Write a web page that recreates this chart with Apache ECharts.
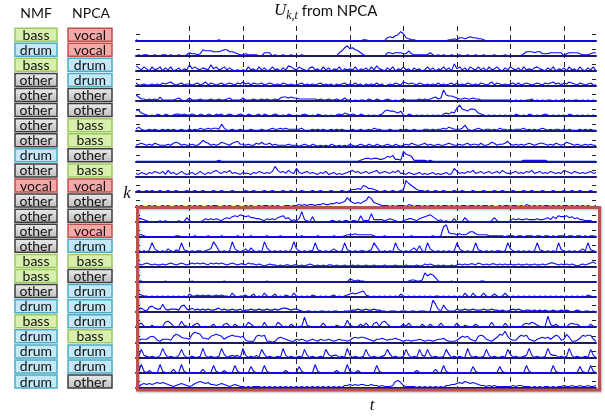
<!DOCTYPE html>
<html>
<head>
<meta charset="utf-8">
<script src="https://cdn.jsdelivr.net/npm/echarts@6/dist/echarts.min.js"></script>
<style>
  html, body { margin: 0; padding: 0; background: #fff; }
  #chart { width: 605px; height: 419px; }
</style>
</head>
<body>
<div id="chart"></div>
<script>
// labels of the 24 components
var NMF_LABELS = ['bass','drum','bass','other','other','other','other','other','drum','other','vocal','other',
  'other','other','other','bass','bass','other','drum','bass','drum','drum','drum','drum'];
var NPCA_LABELS = ['vocal','vocal','drum','drum','other','other','bass','bass','other','bass','vocal','other',
  'other','vocal','drum','bass','other','drum','drum','drum','bass','drum','drum','other'];

// time axis: one value every 5 frames, 0..860
var T_STEP = 5;
var T_MAX = 860;
var T_GRID = 100;
var U_TICK = 6.5;
var U_MAX = 12;

// U_{k,t}, one array per row k
var U01 = [
  1,0,0,0,0,0,0,0,0,0,0,0,0,0,0,0,0,0,0,0,
  0,0,0,0,0,0,0,0,0,0,0,1,0,0,0,0,0,0,0,0,
  0,0,0,0,0,0,0,0,0,0,0,0,0,0,0,0,0,0,0,0,
  0,0,0,0,0,0,0,0,0,0,0,0,0,0,0,0,0,0,0,0,
  0,0,0,0,0,1,1,0,0,0,0,0,0,0,3,4,3,5,6,9,
  7,3,2,1,1,0,0,0,0,0,0,0,0,0,0,0,0,1,1,2,
  1,3,3,2,3,4,3,3,2,2,1,0,0,0,0,0,0,0,0,0,
  0,0,0,0,0,0,0,0,0,0,0,0,0,0,0,0,0,0,0,0,
  0,0,0,0,0,0,0,0,0,0,0,0,0];
var U02 = [
  0,1,0,1,1,0,0,1,0,0,1,1,0,1,0,0,1,0,0,1,
  3,2,2,1,2,6,5,5,5,4,4,4,5,6,6,4,4,3,2,1,
  1,2,1,1,1,1,0,0,3,3,3,0,1,0,0,1,0,0,1,0,
  0,0,1,0,0,0,0,0,0,0,0,0,0,0,0,0,3,5,8,10,
  7,8,6,5,3,1,0,0,0,0,0,0,0,0,3,3,2,3,3,3,
  2,2,5,2,1,1,1,1,1,1,3,1,0,1,0,1,0,0,1,0,
  0,1,0,0,1,0,0,1,0,0,1,0,0,0,1,0,0,0,1,0,
  0,0,0,0,0,2,4,4,4,3,4,4,2,2,2,3,3,3,3,3,
  0,2,3,3,3,3,2,1,1,1,2,3,3];
var U03 = [
  5,3,1,4,2,0,4,1,2,4,0,3,1,4,0,1,3,0,2,1,
  6,2,4,2,1,3,2,1,6,2,4,1,2,4,1,3,1,0,1,0,
  1,0,4,1,2,0,4,1,3,0,1,4,1,2,0,3,1,5,4,2,
  1,4,2,1,0,3,4,1,2,0,4,1,3,0,2,1,4,0,2,1,
  2,1,4,0,2,1,3,0,4,1,5,2,1,0,3,1,4,0,2,1,
  4,1,2,0,3,1,2,0,1,4,1,3,0,2,1,4,1,3,0,7,
  2,4,1,3,0,4,2,1,4,1,3,0,4,1,2,4,1,0,3,1,
  4,2,1,3,0,4,1,2,1,3,4,2,1,0,3,1,4,0,2,1,
  3,0,4,1,2,0,4,1,0,3,1,4,0];
var U04 = [
  3,1,1,2,1,1,2,1,2,1,3,2,3,4,2,1,2,3,1,2,
  2,1,2,3,1,2,4,1,3,2,1,2,3,1,2,3,2,1,3,2,
  4,2,3,1,3,2,2,3,1,2,3,2,1,2,1,3,2,1,2,1,
  1,2,3,1,2,1,2,1,2,3,1,2,1,2,0,2,1,2,3,1,
  2,1,3,1,2,0,2,1,2,1,3,1,2,0,1,2,1,3,2,1,
  4,3,2,3,2,1,3,2,1,2,1,2,1,3,1,2,1,2,3,1,
  3,1,2,1,3,2,1,2,1,3,2,1,2,4,1,3,2,1,2,1,
  2,3,1,3,1,2,3,2,1,2,3,2,1,3,2,3,4,2,3,1,
  3,2,4,3,2,1,3,2,1,2,3,1,1];
var U05 = [
  6,4,2,2,1,2,1,2,1,4,1,1,1,1,1,2,3,1,0,1,
  3,1,1,1,2,1,1,1,2,1,1,2,1,1,2,3,1,1,1,1,
  3,1,1,1,2,1,1,2,1,2,1,1,2,1,3,4,4,3,4,3,
  3,2,2,2,2,2,2,2,1,2,1,1,2,1,1,2,1,1,3,1,
  1,0,1,0,1,1,0,2,1,0,2,1,0,1,2,1,0,1,0,1,
  2,1,1,1,1,1,2,1,2,1,2,3,4,2,3,11,6,5,5,4,
  3,2,2,3,2,2,3,2,2,1,1,1,1,1,1,1,1,1,1,1,
  1,0,1,0,1,0,1,1,2,0,1,0,1,0,1,1,0,1,0,1,
  1,0,1,0,1,1,0,1,0,1,0,1,0];
var U06 = [
  6,6,3,2,1,0,1,0,2,1,0,2,1,0,1,2,2,1,2,1,
  1,2,1,0,2,1,0,2,1,0,2,1,2,0,1,2,1,0,1,2,
  1,0,2,1,0,1,2,0,2,1,0,1,2,1,0,1,0,2,1,0,
  1,0,1,2,1,0,1,0,2,1,0,1,0,1,0,1,2,1,3,2,
  1,2,1,0,2,1,0,1,0,1,0,1,2,5,6,5,5,4,3,5,
  1,0,2,1,0,1,0,1,0,1,0,1,0,1,0,2,3,2,4,3,
  8,11,7,6,5,7,7,6,3,2,1,0,1,0,1,0,1,0,1,0,
  1,0,2,1,0,1,0,2,1,0,1,0,1,2,1,0,1,0,1,0,
  1,0,2,1,0,1,0,1,0,1,0,1,0];
var U07 = [
  2,4,2,1,1,2,1,2,1,1,2,1,2,1,2,1,1,2,1,1,
  2,1,2,1,3,2,2,3,2,3,3,2,7,3,1,1,2,1,1,2,
  1,1,1,2,1,1,1,2,1,1,2,3,2,2,3,2,3,2,2,2,
  2,2,3,1,1,1,2,1,2,1,2,1,1,2,1,2,1,2,1,1,
  1,2,1,1,2,1,1,2,1,3,2,2,1,1,1,2,1,1,1,2,
  1,2,1,1,2,1,1,1,2,2,1,2,1,2,2,3,2,4,3,2,
  2,2,3,6,2,1,1,2,3,2,1,2,2,1,2,1,3,2,2,1,
  2,1,2,2,2,3,1,2,1,2,1,2,3,2,1,2,1,2,2,1,
  2,1,2,1,1,1,2,1,2,1,2,1,1];
var U08 = [
  1,2,3,2,1,2,1,3,2,1,1,1,2,1,3,4,3,1,2,1,
  1,2,1,1,3,6,4,3,1,2,1,2,4,3,2,1,3,4,5,2,
  2,1,2,1,1,3,2,4,2,2,3,1,2,1,1,1,1,2,1,1,
  1,0,1,2,1,0,2,1,0,1,0,1,0,2,1,0,1,0,1,0,
  2,1,0,1,2,1,0,2,1,0,2,1,0,1,2,1,0,2,1,0,
  1,2,1,3,2,1,1,2,3,1,2,1,1,2,1,1,2,3,2,1,
  1,2,1,2,3,1,2,2,1,3,1,1,2,4,3,1,2,2,3,5,
  2,1,2,1,2,1,2,3,2,1,2,3,3,2,1,2,1,3,2,1,
  2,4,3,2,1,2,1,1,2,1,2,1,1];
var U09 = [
  0,0,0,0,0,0,0,0,0,0,0,0,0,0,0,0,0,0,0,0,
  0,0,0,0,0,0,0,0,0,0,0,1,0,0,0,0,0,0,0,0,
  0,0,0,0,0,0,0,0,0,0,0,0,0,0,0,0,0,0,0,0,
  0,0,0,0,0,0,0,0,0,0,0,0,0,0,0,0,0,0,0,0,
  0,0,0,0,1,2,3,3,2,3,3,2,2,3,5,4,6,2,2,1,
  10,7,6,5,1,1,1,1,1,0,1,0,0,0,0,0,0,0,0,0,
  0,0,0,0,0,0,0,0,0,0,0,0,0,0,0,0,0,0,0,0,
  0,0,0,0,0,1,1,1,1,1,1,1,1,1,0,0,0,0,0,0,
  0,0,0,0,0,0,0,0,0,0,0,0,0];
var U10 = [
  3,2,4,3,2,4,3,5,4,3,5,2,6,3,4,2,3,5,3,2,
  3,4,2,3,5,3,2,4,3,5,6,4,3,5,4,6,3,4,3,2,
  4,3,3,2,4,3,5,4,3,4,3,5,10,6,4,5,3,6,4,3,
  8,4,3,4,5,3,4,3,2,4,3,5,2,3,4,2,3,2,3,4,
  5,6,4,5,3,4,5,3,4,5,6,3,4,5,4,3,5,4,6,3,
  3,2,4,3,2,3,4,2,3,2,3,4,2,3,2,3,4,2,3,8,
  5,3,4,3,5,4,6,3,4,5,3,4,5,3,4,5,3,6,4,3,
  3,4,5,3,4,3,5,4,6,3,4,5,3,4,3,5,4,3,4,3,
  6,5,4,3,5,4,3,4,3,4,5,3,4];
var U11 = [
  0,1,0,0,1,0,1,0,0,1,0,0,1,0,0,1,0,0,0,1,
  0,0,1,0,0,1,0,0,0,1,0,0,1,0,0,0,1,0,0,0,
  0,1,0,0,1,0,0,0,1,0,0,1,0,0,0,1,0,0,1,0,
  0,0,1,0,0,0,1,0,0,1,0,0,0,1,0,0,0,1,0,0,
  1,2,2,3,2,6,5,3,3,2,1,0,0,1,0,0,1,0,0,1,
  2,11,8,6,4,2,1,1,0,1,0,0,1,0,0,1,0,0,0,1,
  0,0,1,0,0,0,1,0,0,0,1,0,0,0,1,0,0,1,0,0,
  0,1,0,0,0,1,0,0,1,0,0,0,1,0,0,0,1,0,0,0,
  1,0,0,1,0,0,1,0,0,0,1,0,0];
var U12 = [
  1,0,1,0,0,1,0,1,0,0,1,0,1,0,0,1,0,1,0,0,
  1,0,1,0,1,0,0,1,0,1,1,0,0,1,0,1,0,0,1,0,
  0,1,0,1,0,0,1,0,1,1,0,1,0,1,0,0,1,1,0,1,
  1,2,1,2,1,2,2,1,2,2,3,2,2,3,3,4,3,4,5,9,
  6,4,3,4,3,5,6,10,8,4,3,2,1,1,1,0,1,0,1,1,
  1,0,2,1,0,1,1,0,1,0,1,1,0,1,0,1,1,0,1,0,
  1,0,1,1,0,1,1,0,1,0,1,1,0,1,0,0,1,0,1,1,
  0,1,1,0,1,0,2,1,0,1,0,1,0,1,1,0,1,0,1,0,
  1,1,0,1,0,1,0,1,0,1,0,0,1];
var U13 = [
  0,3,3,2,1,0,0,0,0,1,0,1,0,0,0,0,1,0,0,4,
  1,0,0,0,0,1,3,2,3,2,3,2,1,3,4,3,5,6,5,7,
  6,5,6,4,4,3,3,2,1,3,2,3,2,4,5,6,3,4,1,2,
  1,3,10,2,1,0,5,0,0,0,0,0,0,1,1,0,1,0,1,1,
  0,1,1,0,6,1,1,1,8,2,2,2,2,1,2,3,2,1,0,0,
  1,2,3,3,2,1,3,4,5,6,7,5,3,1,2,0,1,0,0,3,
  0,0,0,4,1,0,0,0,0,0,0,0,0,1,4,1,0,0,0,0,
  1,3,2,3,2,2,3,2,2,2,3,2,2,3,4,2,5,3,6,5,
  5,6,4,5,3,4,2,2,1,1,1,0,0];
var U14 = [
  0,2,2,1,0,0,0,0,0,0,0,0,0,0,0,1,1,0,0,0,
  0,0,1,0,0,0,0,1,0,0,0,0,1,0,0,0,0,0,1,0,
  0,0,0,1,0,0,0,0,0,1,0,0,0,0,1,0,0,0,0,0,
  0,0,1,0,0,0,0,0,1,0,0,0,0,0,1,0,0,0,1,2,
  2,2,3,2,2,2,2,2,2,1,0,0,0,1,0,0,0,0,0,0,
  0,0,0,1,0,0,0,0,0,0,0,1,0,0,1,10,12,4,3,3,
  2,3,2,2,3,5,5,3,2,2,2,2,1,1,1,1,1,1,0,1,
  1,1,0,1,1,0,1,1,1,0,1,1,0,1,1,0,1,0,1,1,
  1,0,1,1,0,1,1,0,1,0,1,1,0];
var U15 = [
  0,1,0,1,0,2,9,3,1,0,1,0,3,1,0,2,1,9,2,1,
  0,1,0,1,1,0,1,2,3,10,6,1,0,1,0,1,10,3,1,0,
  1,3,0,4,1,0,1,0,10,4,1,0,1,0,1,0,1,0,2,10,
  3,1,0,1,0,1,1,9,2,1,0,1,0,1,3,1,0,1,9,2,
  1,0,1,0,1,1,0,1,2,9,5,1,0,1,0,1,0,9,3,1,
  0,1,0,2,4,1,6,1,0,9,3,1,0,1,0,1,0,1,0,1,
  9,3,1,0,1,0,1,9,2,1,0,1,0,1,0,1,1,0,1,9,
  3,1,0,1,0,1,0,1,0,1,9,2,1,0,1,0,1,0,9,2,
  1,0,1,0,1,0,1,3,1,9,2,1,0];
var U16 = [
  2,3,2,3,4,3,2,3,2,2,3,2,3,4,3,2,3,4,3,2,
  3,4,3,4,3,4,3,2,4,3,4,3,4,3,2,3,4,3,2,3,
  3,2,4,3,3,2,3,2,1,2,3,2,2,1,2,1,2,2,1,2,
  2,1,2,1,2,3,2,1,2,1,2,1,2,2,1,2,1,1,2,1,
  1,2,1,2,1,1,2,1,1,2,1,1,1,2,1,1,1,2,1,1,
  1,2,1,1,1,2,1,1,3,2,3,2,1,2,1,2,1,1,2,1,
  2,3,2,3,2,3,3,2,4,3,2,3,2,3,3,2,3,2,3,2,
  3,2,2,3,2,2,3,2,2,3,2,2,3,2,3,4,4,3,2,3,
  2,3,2,3,2,1,2,3,2,3,4,5,3];
var U17 = [
  0,1,1,0,0,0,0,0,0,0,0,1,0,0,0,0,0,0,0,0,
  0,1,0,0,0,0,0,0,0,0,0,0,0,1,0,0,0,0,0,0,
  0,0,0,0,0,0,0,0,0,1,0,0,0,0,0,0,0,0,0,0,
  0,0,0,0,0,0,0,0,0,0,0,0,0,0,0,0,0,0,0,0,
  3,2,1,2,1,1,0,0,0,0,0,0,0,0,0,0,0,0,0,0,
  0,0,1,2,2,1,1,2,9,6,8,7,4,1,0,0,0,0,1,0,
  0,0,0,0,0,0,0,0,0,1,1,0,0,0,0,0,0,0,0,0,
  0,0,0,0,0,0,0,0,0,0,0,0,0,0,0,0,0,0,0,0,
  0,0,0,0,0,0,0,0,0,0,0,0,0];
var U18 = [
  1,3,2,1,1,0,1,0,1,0,1,0,1,0,1,0,1,0,1,0,
  3,1,1,2,1,2,1,2,1,1,2,1,2,1,1,0,4,1,0,1,
  1,2,0,1,3,0,1,0,4,1,0,1,3,0,1,0,2,1,0,4,
  1,0,1,0,1,0,2,1,0,1,0,1,0,1,2,0,1,0,1,2,
  3,4,3,4,5,6,2,1,0,1,0,1,0,1,0,1,0,1,0,3,
  1,0,1,0,1,0,1,0,1,0,1,0,1,1,0,1,0,1,0,1,
  0,1,0,4,1,0,4,1,0,1,4,1,0,1,3,1,0,1,4,1,
  0,1,0,1,0,1,0,1,0,1,0,1,0,1,0,1,0,1,0,1,
  0,1,0,1,0,1,0,1,0,2,1,0,0];
var U19 = [
  1,3,4,2,1,5,6,4,3,3,8,3,2,3,3,3,2,6,7,3,
  2,4,2,3,2,3,2,3,2,2,3,4,2,3,2,2,3,2,2,3,
  1,2,2,3,2,2,3,2,2,3,2,2,3,2,3,4,4,3,2,3,
  3,2,1,0,1,1,0,1,0,1,1,0,1,0,1,1,0,0,1,1,
  1,2,2,3,2,2,3,2,2,3,2,2,1,1,0,1,1,1,0,1,
  1,1,0,1,1,0,1,1,1,0,1,12,8,3,1,7,3,1,1,1,
  3,2,2,3,2,2,3,2,2,2,3,2,2,3,2,2,1,2,1,1,
  2,3,2,3,2,1,2,2,1,2,1,2,1,2,1,1,2,1,1,2,
  1,2,1,0,1,2,1,0,1,1,0,1,0];
var U20 = [
  1,3,4,1,0,0,2,0,1,0,1,5,6,4,1,0,1,6,2,1,
  0,1,3,4,1,0,1,0,1,3,0,1,0,3,4,1,0,3,1,0,
  1,1,5,3,1,0,1,0,5,1,0,1,0,5,3,0,1,0,3,1,
  0,1,1,10,2,1,0,1,0,1,4,1,0,1,0,2,1,0,1,7,
  2,1,0,1,3,1,4,1,0,4,5,1,5,6,3,1,0,1,0,1,
  3,1,4,1,0,1,0,3,1,0,3,1,0,1,4,1,0,1,0,1,
  4,1,0,2,1,0,1,3,1,0,1,0,1,5,1,0,1,0,4,1,
  0,1,0,1,0,3,4,3,5,4,2,1,0,1,11,3,1,3,1,0,
  1,0,3,4,3,3,1,0,1,0,3,1,0];
var U21 = [
  1,2,3,3,3,5,6,5,2,1,3,3,3,2,6,8,7,5,4,4,
  3,8,10,9,8,4,4,3,6,7,8,7,6,3,5,6,7,6,6,5,
  6,2,1,1,1,6,7,6,7,1,1,0,1,4,5,4,3,2,1,1,
  3,2,3,2,1,2,3,2,1,3,2,2,3,2,1,2,3,2,2,1,
  2,4,5,4,5,5,4,3,2,1,3,3,4,3,2,3,3,4,3,2,
  1,2,2,1,2,2,3,2,1,2,2,1,2,3,3,4,2,1,1,1,
  2,4,6,5,6,3,2,1,6,7,6,3,2,1,3,5,8,7,11,6,
  3,2,2,5,7,6,7,3,2,1,3,4,5,4,5,3,5,7,6,2,
  3,8,5,1,1,2,4,7,6,7,7,3,1];
var U22 = [
  0,1,8,2,1,0,1,0,0,2,9,3,0,1,0,0,2,8,2,0,
  0,1,0,0,1,9,2,0,1,0,0,1,9,3,0,1,2,1,2,0,
  9,2,0,1,0,2,0,8,3,0,1,0,0,1,0,9,2,0,1,0,
  0,1,0,8,2,0,1,0,0,1,0,8,3,1,2,2,0,1,0,9,
  2,0,1,0,0,1,8,2,0,1,0,0,1,2,8,3,0,1,0,0,
  1,8,2,0,1,0,8,2,1,8,2,0,1,0,0,1,8,3,0,1,
  0,1,0,0,9,2,0,1,0,0,1,8,2,0,1,0,0,1,0,8,
  3,0,1,0,0,1,2,9,2,0,1,0,0,1,9,3,2,2,0,1,
  0,1,9,2,0,1,0,0,1,0,8,2,0];
var U23 = [
  0,1,8,1,0,2,0,0,0,8,1,0,0,0,3,0,0,8,1,0,
  0,0,0,0,0,3,0,0,0,7,1,0,0,2,0,0,0,7,1,0,
  0,0,0,6,1,0,0,0,7,1,0,0,0,0,0,0,2,0,0,0,
  0,6,1,0,0,0,0,8,1,0,0,0,0,0,0,2,0,0,0,8,
  1,0,0,2,0,0,0,0,0,0,7,1,0,0,0,0,0,0,0,0,
  0,0,0,0,0,2,0,0,0,0,0,0,3,0,0,7,1,0,0,0,
  0,0,0,0,0,0,6,1,0,0,0,0,0,0,0,0,6,1,0,0,
  0,0,0,0,0,0,7,1,0,0,0,0,0,0,0,0,7,1,0,0,
  0,0,0,0,0,0,6,1,0,0,7,1,0];
var U24 = [
  0,1,3,4,3,4,3,4,5,4,5,4,3,2,1,2,3,4,3,2,
  1,2,4,5,6,5,4,5,3,3,2,3,4,3,2,1,2,3,2,1,
  1,0,1,0,1,1,1,0,1,0,1,0,1,0,1,0,1,0,1,0,
  1,0,1,0,1,0,1,0,1,0,1,0,1,0,1,0,1,0,2,2,
  3,2,3,2,3,3,2,2,3,2,2,1,2,1,1,1,2,6,7,5,
  2,1,1,1,1,0,1,0,1,0,1,0,1,0,1,0,2,2,3,3,
  4,5,4,6,5,4,5,4,3,2,2,1,2,1,2,1,1,1,1,1,
  1,2,1,2,2,1,1,1,0,1,0,1,0,1,1,0,1,0,1,1,
  2,1,1,2,1,1,2,1,1,2,1,1,2];

var ROWS = [U01, U02, U03, U04, U05, U06, U07, U08, U09, U10, U11, U12,
  U13, U14, U15, U16, U17, U18, U19, U20, U21, U22, U23, U24];

// layout
var PLOT_LEFT = 136, PLOT_WIDTH = 460;
var ROW0 = 40.7, ROW_GAP = 15.08, ROW_H = 12;
var BOX_ROW = 12; // first row inside the red box

var LABEL_STYLE = {
  bass:  { fill: '#d8efae', stroke: '#9cc95e' },
  drum:  { fill: '#c4e8f6', stroke: '#4bacc6' },
  vocal: { fill: '#f3a9a7', stroke: '#c0504d' },
  other: {
    fill: { type: 'linear', x: 0, y: 0, x2: 0, y2: 1,
      colorStops: [{ offset: 0, color: '#ececec' }, { offset: 1, color: '#bdbdbd' }] },
    stroke: '#3c3c3c'
  }
};

var chart = echarts.init(document.getElementById('chart'));

var grids = [], xAxes = [], yAxes = [], series = [];
var n = ROWS.length;

ROWS.forEach(function (row, i) {
  var base = ROW0 + i * ROW_GAP;
  grids.push({ left: PLOT_LEFT, width: PLOT_WIDTH, top: base - ROW_H, height: ROW_H });
  xAxes.push({
    type: 'value', gridIndex: i, min: 0, max: T_MAX,
    axisLine: { show: true, onZero: false, lineStyle: { color: '#1a1a66', width: 2 } },
    axisTick: { show: false }, axisLabel: { show: false }, splitLine: { show: false }
  });
  yAxes.push({
    type: 'value', gridIndex: i, min: 0, max: U_MAX,
    axisLine: { show: false }, axisLabel: { show: false }, splitLine: { show: false },
    axisTick: { show: true, inside: true, length: 4, customValues: [U_TICK],
      lineStyle: { color: '#222', width: 1 } }
  });
  series.push({
    type: 'line', xAxisIndex: i, yAxisIndex: i,
    showSymbol: false, silent: true,
    lineStyle: { color: '#0a0aff', width: 1.1 },
    data: row.map(function (v, j) { return [j * T_STEP, v]; })
  });
});
// right-hand ticks of each row
ROWS.forEach(function (row, i) {
  yAxes.push({
    type: 'value', gridIndex: i, min: 0, max: U_MAX, position: 'right',
    axisLine: { show: false }, axisLabel: { show: false }, splitLine: { show: false },
    axisTick: { show: true, inside: true, length: 4, customValues: [U_TICK],
      lineStyle: { color: '#222', width: 1 } }
  });
});

// one tall grid for the dashed time gridlines
grids.push({ left: PLOT_LEFT, width: PLOT_WIDTH, top: 26, height: 364 });
xAxes.push({
  type: 'value', gridIndex: n, min: 0, max: T_MAX, interval: T_GRID,
  axisLine: { show: false }, axisTick: { show: false }, axisLabel: { show: false },
  splitLine: { show: true, showMinLine: false, showMaxLine: false,
    lineStyle: { type: [5, 4], color: '#222', width: 1 } }
});
yAxes.push({ type: 'value', gridIndex: n, min: 0, max: 1, show: false });

// label boxes
var graphics = [];
function addLabel(text, cx, w, i) {
  var st = LABEL_STYLE[text];
  var cy = ROW0 + i * ROW_GAP - 6;
  graphics.push({
    type: 'rect', silent: true,
    shape: { x: cx - w / 2, y: cy - 6.5, width: w, height: 13 },
    style: { fill: st.fill, stroke: st.stroke, lineWidth: 1.5 }
  });
  graphics.push({
    type: 'text', silent: true, x: cx, y: cy + 0.5,
    style: { text: text, fill: '#111', font: '14px Lato',
      textAlign: 'center', textVerticalAlign: 'middle', align: 'center', verticalAlign: 'middle' }
  });
}
NMF_LABELS.forEach(function (t, i) { addLabel(t, 36, 42, i); });
NPCA_LABELS.forEach(function (t, i) { addLabel(t, 90, 44, i); });

graphics.push({ type: 'text', x: 36, y: 13, silent: true,
  style: { text: 'NMF', font: '14px Lato', fill: '#111', textAlign: 'center', textVerticalAlign: 'middle', align: 'center', verticalAlign: 'middle' } });
graphics.push({ type: 'text', x: 91, y: 13, silent: true,
  style: { text: 'NPCA', font: '14px Lato', fill: '#111', textAlign: 'center', textVerticalAlign: 'middle', align: 'center', verticalAlign: 'middle' } });
graphics.push({ type: 'text', x: 127, y: 194, silent: true,
  style: { text: 'k', font: 'italic 17px "Liberation Serif"', fill: '#111', textAlign: 'center', textVerticalAlign: 'middle', align: 'center', verticalAlign: 'middle' } });
graphics.push({ type: 'text', x: 372, y: 406, silent: true,
  style: { text: 't', font: 'italic 17px "Liberation Serif"', fill: '#111', textAlign: 'center', textVerticalAlign: 'middle', align: 'center', verticalAlign: 'middle' } });

// red box around the lower rows
var boxTop = ROW0 + (BOX_ROW - 1) * ROW_GAP + 1;
graphics.push({
  type: 'rect', silent: true, z: 100,
  shape: { x: 137.5, y: boxTop, width: 462, height: 390 - boxTop },
  style: { fill: 'transparent', stroke: '#c0504d', lineWidth: 3,
    shadowBlur: 2, shadowColor: 'rgba(0,0,0,0.3)', shadowOffsetX: 1, shadowOffsetY: 1 }
});

var option = {
  animation: false,
  backgroundColor: '#fff',
  title: {
    text: '{u|U}{s|k,t}{n| from NPCA}',
    left: 274, top: 0, padding: 0,
    textStyle: {
      fontWeight: 'normal',
      rich: {
        u: { fontFamily: 'Liberation Serif', fontStyle: 'italic', fontWeight: 'normal', fontSize: 17, color: '#111', lineHeight: 22 },
        s: { fontFamily: 'Liberation Serif', fontStyle: 'italic', fontWeight: 'normal', fontSize: 12, color: '#111', lineHeight: 22, verticalAlign: 'bottom' },
        n: { fontFamily: 'Lato', fontWeight: 'normal', fontSize: 15, color: '#111', lineHeight: 22 }
      }
    }
  },
  grid: grids,
  xAxis: xAxes,
  yAxis: yAxes,
  series: series,
  graphic: graphics
};
chart.setOption(option);
</script>
</body>
</html>
